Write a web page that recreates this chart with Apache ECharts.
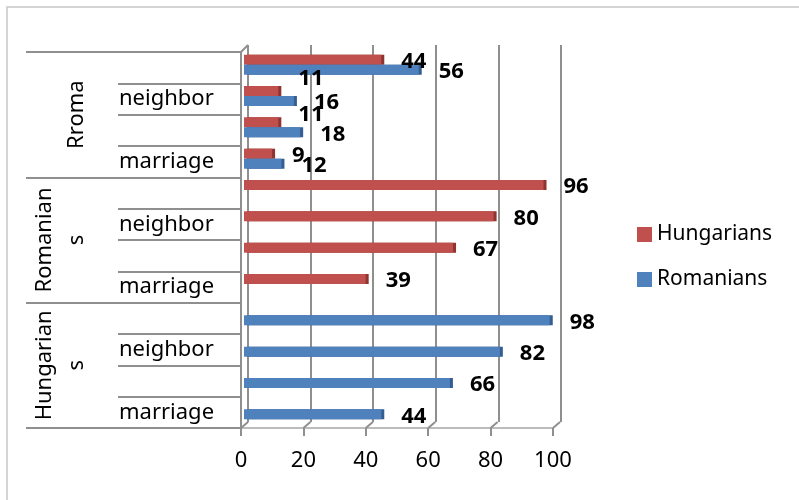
<!DOCTYPE html>
<html>
<head>
<meta charset="utf-8">
<script src="https://cdn.jsdelivr.net/npm/echarts@6/dist/echarts.min.js"></script>
<style>
  html, body { margin: 0; padding: 0; background: #fff; }
  #chart { width: 799px; height: 500px; }
</style>
</head>
<body>
<div id="chart"></div>
<script>
// Rows are listed from the bottom of the chart upwards.
const groups = ['Hungarians', 'Romanians', 'Rroma'];
const rowLabels = ['marriage', '', 'neighbor', '', 'marriage', '', 'neighbor', '', 'marriage', '', 'neighbor', ''];
const hungarians = [null, null, null, null, 39, 67, 80, 96, 9, 11, 11, 44];
const romanians = [44, 66, 82, 98, null, null, null, null, 12, 18, 16, 56];
const xTicks = [0, 20, 40, 60, 80, 100];

const FONT = 'Noto Sans';
const GRID_GRAY = '#8f8f8f';

// A couple of value labels sit a little higher to stay clear of their neighbours.
const hungarianLabelNudge = { 9: -10, 10: -14 };

function toItems(values, nudge) {
  return values.map((v, i) => {
    if (v === null) return '-';
    const dy = (nudge && nudge[i] !== undefined) ? nudge[i] : 0;
    return { value: v, label: { offset: [0, 2 + dy] } };
  });
}

const barLabel = {
  show: true,
  position: 'right',
  distance: 20,
  fontFamily: FONT,
  fontSize: 22,
  fontWeight: 'bold',
  color: '#000'
};

const chart = echarts.init(document.getElementById('chart'), null, { renderer: 'canvas' });

chart.setOption({
  backgroundColor: '#fff',
  animation: false,
  graphic: [{
    type: 'rect',
    shape: { x: 7, y: 7, width: 900, height: 600 },
    style: { fill: 'none', stroke: '#c8c8c8', lineWidth: 1.5 },
    silent: true
  }],
  legend: {
    data: ['Hungarians', 'Romanians'],
    orient: 'vertical',
    left: 632,
    top: 219,
    itemWidth: 15,
    itemHeight: 15,
    itemGap: 24,
    icon: 'rect',
    textStyle: { fontFamily: FONT, fontSize: 21, color: '#000' }
  },
  grid: [
    // front plane: axes, ticks and category labels
    { left: 241, top: 52, width: 312, height: 376 },
    // back wall: vertical gridlines
    { left: 248, top: 45, width: 313, height: 377 },
    // bars sit between the two planes
    { left: 244, top: 49, width: 312, height: 376 }
  ],
  xAxis: [
    {
      gridIndex: 0, type: 'value', min: 0, max: 100, interval: 20,
      axisLine: { show: true, lineStyle: { color: '#a6a6a6', width: 1.5 } },
      axisTick: { show: true, length: 8, lineStyle: { color: GRID_GRAY, width: 2 } },
      axisLabel: { margin: 22, fontFamily: FONT, fontSize: 22, color: '#000' },
      splitLine: { show: false }
    },
    {
      gridIndex: 1, type: 'value', min: 0, max: 100, interval: 20,
      axisLine: { show: false }, axisTick: { show: false }, axisLabel: { show: false },
      splitLine: { show: true, lineStyle: { color: GRID_GRAY, width: 2 } }
    },
    {
      gridIndex: 2, type: 'value', min: 0, max: 100, interval: 20, show: false
    }
  ],
  yAxis: [
    {
      gridIndex: 0, type: 'category', data: rowLabels, position: 'left',
      axisLine: { show: true, lineStyle: { color: GRID_GRAY, width: 2 } },
      axisTick: { show: true, length: 123, lineStyle: { color: GRID_GRAY, width: 2 } },
      axisLabel: { interval: 0, align: 'left', margin: 122, fontFamily: FONT, fontSize: 22, color: '#000' },
      splitLine: { show: false }
    },
    {
      gridIndex: 0, type: 'category', data: groups, position: 'left',
      axisLine: { show: false },
      axisTick: { show: true, length: 215, lineStyle: { color: GRID_GRAY, width: 2 } },
      axisLabel: {
        interval: 0, rotate: 90, margin: 148, fontFamily: FONT, fontSize: 22, color: '#000',
        lineHeight: 32, width: 113, overflow: 'breakAll'
      },
      splitLine: { show: false }
    },
    { gridIndex: 1, type: 'category', data: rowLabels, show: false },
    { gridIndex: 2, type: 'category', data: rowLabels, show: false }
  ],
  series: [
    {
      name: 'Hungarians', type: 'bar', xAxisIndex: 2, yAxisIndex: 3,
      data: toItems(hungarians, hungarianLabelNudge),
      barWidth: 10, barGap: '0%',
      itemStyle: {
        color: '#C0504D',
        shadowColor: '#8f3431', shadowOffsetX: 3, shadowOffsetY: 0, shadowBlur: 0
      },
      label: barLabel
    },
    {
      name: 'Romanians', type: 'bar', xAxisIndex: 2, yAxisIndex: 3,
      data: toItems(romanians),
      barWidth: 10, barGap: '0%',
      itemStyle: {
        color: '#4F81BD',
        shadowColor: '#345e91', shadowOffsetX: 3, shadowOffsetY: 0, shadowBlur: 0
      },
      label: barLabel
    },
    {
      // short slanted edges joining the front axis to the back wall
      type: 'custom', xAxisIndex: 0, yAxisIndex: 0, silent: true, z: 1,
      data: xTicks.map(v => [v, 0]),
      renderItem: function (params, api) {
        const v = api.value(0);
        const cs = params.coordSys;
        const x = api.coord([v, 0])[0];
        const yb = cs.y + cs.height;
        const style = { stroke: GRID_GRAY, lineWidth: 2 };
        const children = [{ type: 'line', shape: { x1: x, y1: yb, x2: x + 7, y2: yb - 6 }, style: style }];
        if (v === 0) {
          children.push({ type: 'line', shape: { x1: x, y1: cs.y, x2: x + 7, y2: cs.y - 7 }, style: style });
        }
        return { type: 'group', children: children };
      }
    }
  ]
});
</script>
</body>
</html>
